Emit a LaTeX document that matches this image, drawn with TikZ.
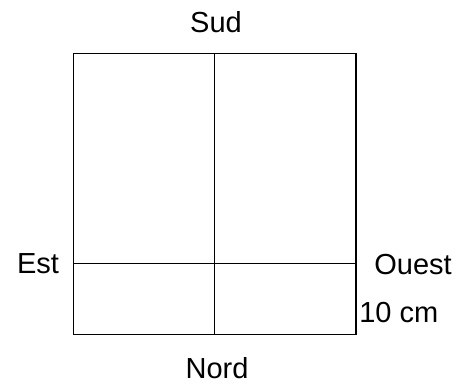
\documentclass[tikz,border=0pt]{standalone}
\usepackage{fontspec}
\setmainfont{Liberation Sans}
\usepackage{tikz}
\usetikzlibrary{positioning}

\tikzset{
    label text/.style={font=\fontsize{27.5}{33}\selectfont, inner sep=0pt},
    wall/.style={line width=1.1pt, black}
}

\begin{document}
\begin{tikzpicture}
        \useasboundingbox (0,0) rectangle (15.667,12.833);
        \coordinate (sw) at (2.443, 1.677);
        \coordinate (ne) at (11.867, 11.057);
        \coordinate (midtop) at (7.15, 11.057);
        \coordinate (midbot) at (7.15, 1.677);
        \coordinate (eastend) at (2.443, 4.057);
        \coordinate (westend) at (11.867, 4.057);
        \draw[wall] (sw) rectangle (ne);
        \draw[wall] (midtop) -- (midbot);
        \draw[wall] (eastend) -- (westend);
        \node[label text] (sud) at (7.2, 12.1) {Sud};
        \node[label text] (nord) at (7.233, 0.567) {Nord};
        \node[label text] (est) at (1.267, 4.03) {Est};
        \node[label text] (ouest) at (13.77, 4.03) {Ouest};
        \node[label text, anchor=west] (dim) at (11.97, 2.4) {10 cm};
    \end{tikzpicture}
\end{document}
